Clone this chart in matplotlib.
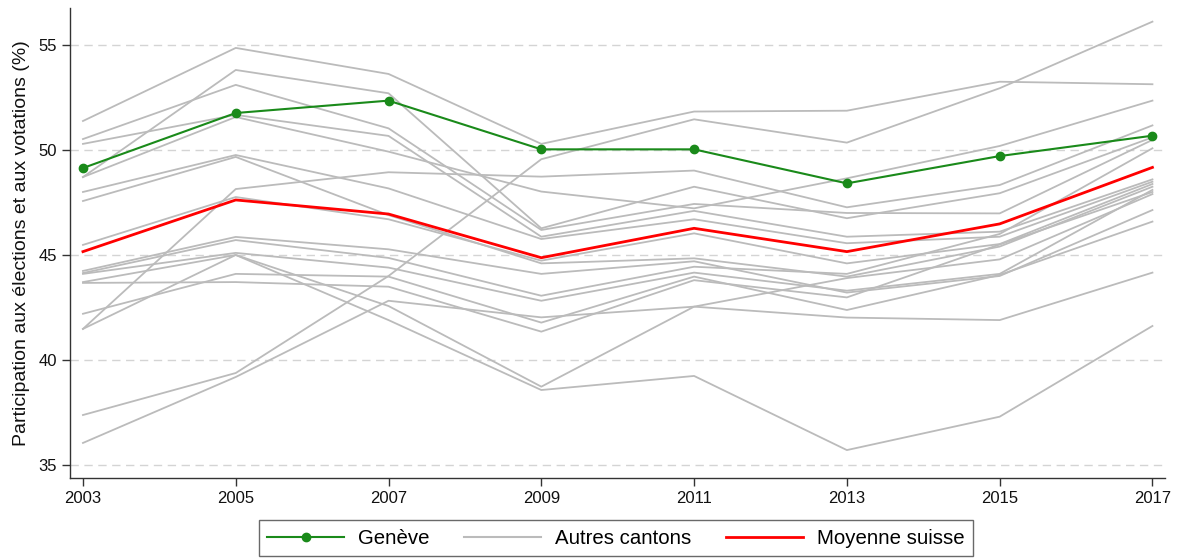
import matplotlib
matplotlib.use("Agg")
import matplotlib.pyplot as plt
from matplotlib.lines import Line2D

plt.rcParams['font.family'] = ['Liberation Sans', 'DejaVu Sans']

years = [2003, 2005, 2007, 2009, 2011, 2013, 2015, 2017]

geneve = [49.14, 51.76, 52.35, 50.03, 50.03, 48.41, 49.71, 50.68]
moyenne = [45.16, 47.62, 46.95, 44.87, 46.27, 45.16, 46.48, 49.17]

c01 = [51.38, 54.86, 53.62, 50.29, 51.83, 51.87, 53.25, 53.13]
c02 = [37.38, 39.38, 44.00, 49.56, 51.46, 50.35, 52.94, 56.11]
c03 = [48.71, 53.81, 52.70, 46.27, 48.25, 46.75, 47.94, 50.60]
c04 = [50.52, 53.10, 51.03, 46.19, 47.43, 47.00, 46.98, 50.48]
c05 = [50.29, 51.67, 50.67, 45.87, 47.10, 45.87, 46.11, 48.60]
c06 = [48.71, 51.57, 49.92, 48.02, 47.22, 48.65, 50.19, 52.35]
c07 = [48.00, 49.76, 48.17, 45.76, 46.70, 45.56, 45.87, 48.49]
c08 = [47.57, 49.67, 46.90, 44.60, 44.84, 43.97, 45.40, 48.25]
c09 = [41.48, 48.14, 48.94, 48.73, 49.02, 47.27, 48.33, 51.17]
c10 = [45.48, 47.76, 46.70, 44.73, 46.03, 44.60, 45.52, 48.38]
c11 = [44.24, 45.86, 45.27, 44.10, 44.70, 43.21, 44.00, 47.14]
c12 = [44.14, 45.71, 44.86, 43.06, 44.44, 44.10, 46.00, 50.08]
c13 = [44.10, 45.10, 44.40, 42.82, 44.16, 43.30, 44.10, 48.10]
c14 = [43.71, 45.00, 42.57, 38.73, 42.54, 43.90, 44.79, 47.90]
c15 = [43.67, 43.71, 43.49, 41.35, 43.80, 42.98, 45.50, 48.00]
c16 = [42.20, 44.10, 43.97, 41.78, 43.97, 42.38, 44.05, 46.59]
c17 = [41.48, 45.00, 41.90, 38.57, 39.24, 35.71, 37.30, 41.62]
c18 = [36.05, 39.19, 42.82, 42.03, 42.54, 42.02, 41.90, 44.16]

autres = [c01, c02, c03, c04, c05, c06, c07, c08, c09, c10, c11, c12,
          c13, c14, c15, c16, c17, c18]

y_ticks = [35, 40, 45, 50, 55]
ylabel = "Participation aux élections et aux votations (%)"
labels = ["Genève", "Autres cantons", "Moyenne suisse"]

GREY = "#bbbbbb"
GREEN = "#1a8a1a"
RED = "#ff0000"

fig = plt.figure(figsize=(11.8, 5.6), dpi=100)
ax = fig.add_axes([0.0593, 0.1464, 0.9277, 0.8393])

for s in autres:
    ax.plot(years, s, color=GREY, lw=1.3, zorder=2)
ax.plot(years, moyenne, color=RED, lw=2.0, zorder=3)
ax.plot(years, geneve, color=GREEN, lw=1.5, marker='o', ms=6, zorder=4)

ax.set_xlim(2002.83, 2017.16)
ax.set_ylim(34.38, 56.76)
ax.set_xticks(years)
ax.set_yticks(y_ticks)
ax.yaxis.grid(True, linestyle=(0, (6, 4)), color="#d4d4d4", lw=1.0, zorder=0)
ax.set_axisbelow(True)

for side in ["top", "right"]:
    ax.spines[side].set_visible(False)
for side in ["left", "bottom"]:
    ax.spines[side].set_color("#333333")
    ax.spines[side].set_linewidth(1.0)
ax.tick_params(axis='both', direction='out', length=6, width=1.0,
               color="#333333", labelsize=12, labelcolor="#111111")
ax.set_ylabel(ylabel, fontsize=14, color="#111111", labelpad=6)

handles = [
    Line2D([0], [0], color=GREEN, lw=1.5, marker='o', ms=6),
    Line2D([0], [0], color=GREY, lw=1.5),
    Line2D([0], [0], color=RED, lw=2.0),
]
leg = fig.legend(handles, labels, loc='center', bbox_to_anchor=(0.522, 0.039),
                 ncol=3, fontsize=14.7, frameon=True, fancybox=False,
                 edgecolor="#444444", handlelength=3.75, columnspacing=1.7,
                 handletextpad=0.7, borderpad=0.4, borderaxespad=0)
leg.get_frame().set_linewidth(1.0)

fig.savefig("out.png", dpi=100)
